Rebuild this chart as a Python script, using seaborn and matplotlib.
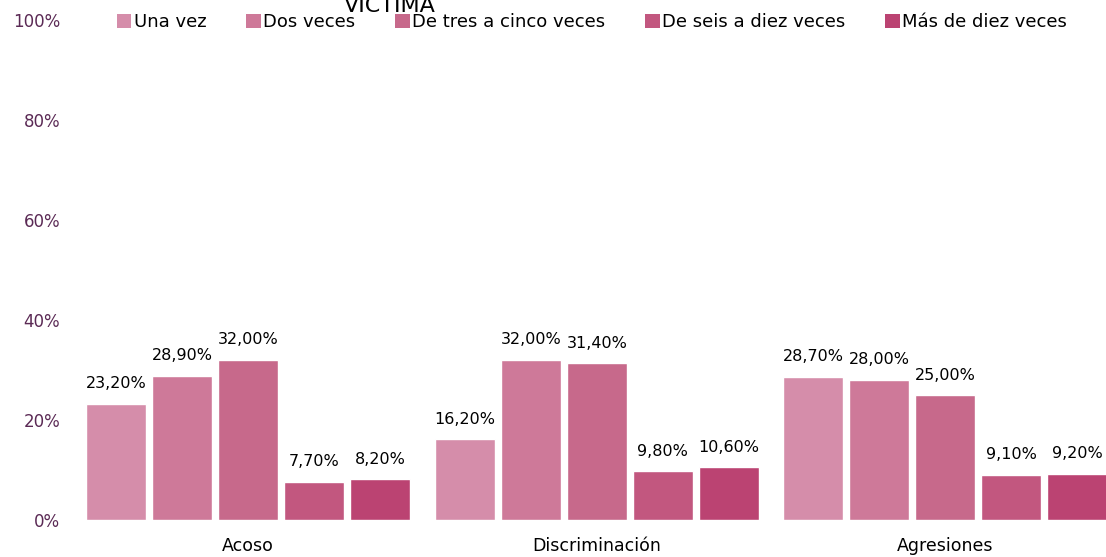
import pandas as pd
import seaborn as sns
import matplotlib.pyplot as plt
from matplotlib.patches import Patch

sns.set_theme(style="white")
plt.rcParams['font.family'] = ['DejaVu Sans']

categorias = ['Acoso', 'Discriminación', 'Agresiones']
frecuencias = ['Una vez', 'Dos veces', 'De tres a cinco veces',
               'De seis a diez veces', 'Más de diez veces']
una_vez = [23.2, 16.2, 28.7]
dos_veces = [28.9, 32.0, 28.0]
tres_a_cinco = [32.0, 31.4, 25.0]
seis_a_diez = [7.7, 9.8, 9.1]
mas_de_diez = [8.2, 10.6, 9.2]
colores = ['#D58DAA', '#CE7999', '#C7698B', '#C2577F', '#BB4372']

series = [una_vez, dos_veces, tres_a_cinco, seis_a_diez, mas_de_diez]
df = pd.DataFrame({
    'categoria': [c for s in series for c in categorias],
    'frecuencia': [f for f, s in zip(frecuencias, series) for _ in s],
    'valor': [v for s in series for v in s],
})

fig = plt.figure(figsize=(11.06, 5.57), dpi=100)
ax = fig.add_axes([74 / 1106, 37 / 557, 1032 / 1106, 500 / 557])
sns.barplot(data=df, x='categoria', y='valor', hue='frecuencia',
            hue_order=frecuencias, order=categorias, palette=colores,
            saturation=1, width=0.947, gap=0.09, edgecolor='white', linewidth=1,
            legend=False, ax=ax)

for cont in ax.containers:
    ax.bar_label(cont, labels=[f'{v:.2f}%'.replace('.', ',') for v in cont.datavalues],
                 padding=9, fontsize=11.5, color='black')

ax.set_xlim(-0.5, -0.5 + 1032 / 348.5)
ax.set_ylim(0, 100)
ax.set_yticks(range(0, 101, 20))
ax.set_yticklabels([f'{t}%' for t in range(0, 101, 20)], fontsize=12, color='#5B2A55')
ax.tick_params(axis='x', labelsize=12.5, pad=12, length=0, labelcolor='black')
ax.tick_params(axis='y', pad=10, length=0)
ax.set_xlabel('')
ax.set_ylabel('')
sns.despine(ax=ax, left=True, bottom=True)

handles = [Patch(facecolor=c, edgecolor='none') for c in colores]
fig.legend(handles, frecuencias, loc='center', bbox_to_anchor=(592 / 1106, 1 - 22 / 557),
           ncol=5, frameon=False, fontsize=13, handlelength=0.8, handleheight=0.8,
           handletextpad=0.15, columnspacing=2.2, borderaxespad=0, labelcolor='black')

fig.text(390 / 1106, 1 - 12 / 557, 'VICTIMA', ha='center', va='baseline', fontsize=16,
         color='black')

fig.savefig('out.png', dpi=100)
